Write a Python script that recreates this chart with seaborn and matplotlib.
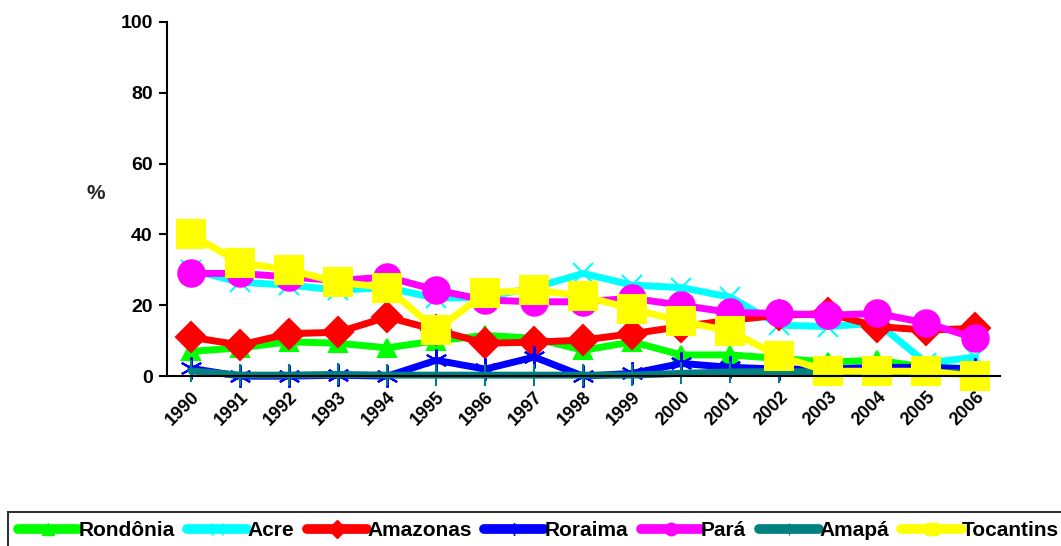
import numpy as np
import pandas as pd
import matplotlib
matplotlib.use('Agg')
import matplotlib.pyplot as plt
import seaborn as sns

years = [str(y) for y in range(1990, 2007)]

rondonia = [7, 8, 9.7, 9.3, 8, 10, 11.5, 10.7, 7.3, 9.7, 6, 6, 5, 4, 4.5, 2.5, 2.2]
acre = [30, 26.5, 25.7, 24.3, 25, 22, 22.3, 25, 29, 25.7, 25, 22.3, 14.4, 14, 15, 3.7, 5.4]
amazonas = [11, 8.8, 12, 12.4, 16.7, 13, 9.3, 9.6, 10.2, 12, 14, 15.8, 17.2, 17.7, 14, 13, 13.5]
roraima = [2.2, 0, 0, 0.3, 0, 4.5, 2, 5.4, 0, 0.8, 3.6, 2.5, 2, 2, 2.5, 2.5, 2]
para = [29, 29, 28, 27, 28, 24.3, 21.5, 21, 21, 22, 20, 18, 17.7, 17.2, 17.7, 15, 10.7]
amapa = [1.5, 0.3, 0.3, 0.5, 0.3, 0.3, 0.3, 0.3, 0.3, 0.3, 0.8, 1.2, 1.3, 1.2, 1.2, 1.2, 0.8]
tocantins = [40, 32, 30, 26.5, 25, 13, 23.5, 24.3, 22.6, 19, 15.5, 12.7, 5.6, 1.4, 1.4, 1.4, 0]

names = ['Rondônia', 'Acre', 'Amazonas', 'Roraima', 'Pará', 'Amapá', 'Tocantins']
series = [rondonia, acre, amazonas, roraima, para, amapa, tocantins]
colors = ['#00ff00', '#00ffff', '#ff0000', '#0000ff', '#ff00ff', '#008080', '#ffff00']
markers = ['^', 'x', 'D', (6, 2, 0), 'o', '|', 's']
msizes = [13, 14, 15, 16, 19, 16, 20]

sns.set_style('white')
plt.rcParams['font.family'] = ['Liberation Sans', 'DejaVu Sans']
plt.rcParams['font.weight'] = 'bold'
plt.rcParams['text.color'] = 'black'
plt.rcParams['xtick.color'] = 'black'
plt.rcParams['ytick.color'] = 'black'

fig = plt.figure(figsize=(10.61, 5.46), dpi=100)
ax = fig.add_axes([0.157, 0.311, 0.7855, 0.649])

x = np.arange(len(years))
handles = []
for name, vals, c, m, ms in zip(names, series, colors, markers, msizes):
    df = pd.DataFrame({'x': x, 'y': vals})
    sns.lineplot(data=df, x='x', y='y', ax=ax, color=c, linewidth=5,
                 marker=m, markersize=ms, markeredgecolor=c, markerfacecolor=c,
                 markeredgewidth=1.5, legend=False, clip_on=False)
    h, = ax.plot([], [], color=c, linewidth=7, marker=m, markersize=9,
                 markeredgecolor=c, markerfacecolor=c, markeredgewidth=1,
                 solid_capstyle='round')
    handles.append(h)

ax.set_xlim(-0.5, 16.4)
ax.set_ylim(0, 100)
ax.set_yticks([0, 20, 40, 60, 80, 100])
ax.set_yticklabels(['0', '20', '40', '60', '80', '100'], fontsize=14, fontweight='bold')
ax.set_xticks(x)
ax.set_xticklabels(years, rotation=45, ha='right', rotation_mode='anchor',
                   fontsize=13, fontweight='bold')
ax.set_xticks(np.arange(-0.5, 16.6, 1), minor=True)
ax.tick_params(axis='x', which='major', length=0, pad=9)
ax.tick_params(axis='x', which='minor', length=5, width=1.5, direction='out')
ax.tick_params(axis='y', length=6, width=1.5, direction='out', left=True, pad=4)
ax.set_xlabel('')
ax.set_ylabel('%', rotation=0, fontsize=15, fontweight='bold')
ax.yaxis.set_label_coords(-0.085, 0.49)
for s in ['top', 'right']:
    ax.spines[s].set_visible(False)
for s in ['left', 'bottom']:
    ax.spines[s].set_color('black')
    ax.spines[s].set_linewidth(1.5)

leg = fig.legend(handles, names, loc='lower left', bbox_to_anchor=(0.008, -0.006),
                 ncol=7, frameon=True, fancybox=False, handlelength=2.9,
                 handletextpad=0.0, columnspacing=0.6, borderpad=0.45,
                 borderaxespad=0, prop={'weight': 'bold', 'size': 15})
leg.get_frame().set_edgecolor('black')
leg.get_frame().set_linewidth(1.5)

fig.savefig('out.png', dpi=100)
